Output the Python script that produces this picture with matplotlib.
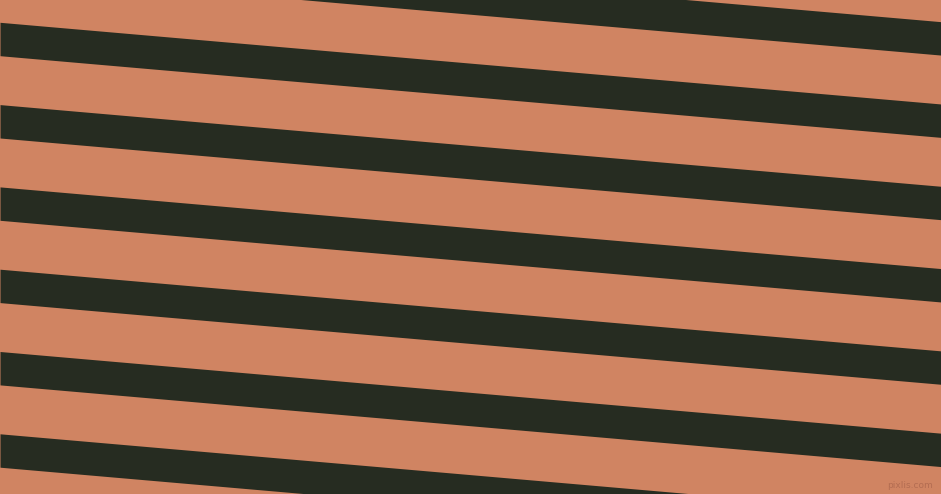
import matplotlib
matplotlib.use("Agg")
import matplotlib.pyplot as plt
import numpy as np

# stripe data
stripe_tops_at_left = [-142.6, -60.0, 22.3, 104.6, 186.9, 269.2, 351.5, 433.8, 516.1]
stripe_thickness = 33.4
stripe_slope = 0.0868
background_color = "#D08462"
stripe_color = "#262C21"
watermark = "pixlis.com"

W, H = 941, 494
fig = plt.figure(figsize=(W / 100, H / 100), dpi=100)
ax = fig.add_axes([0, 0, 1, 1])
ax.set_facecolor(background_color)
fig.patch.set_facecolor(background_color)
ax.set_xlim(0, W)
ax.set_ylim(H, 0)
ax.axis("off")

x = np.array([0, W], dtype=float)
for top in stripe_tops_at_left:
    y1 = top + stripe_slope * x
    y2 = y1 + stripe_thickness
    ax.fill_between(x, y1, y2, color=stripe_color, linewidth=0)

ax.text(933, 490, watermark, fontsize=6.5, color="#B06A50", alpha=0.9,
        ha="right", va="bottom", family="DejaVu Sans")

fig.savefig("out.png", dpi=100, facecolor=background_color)
